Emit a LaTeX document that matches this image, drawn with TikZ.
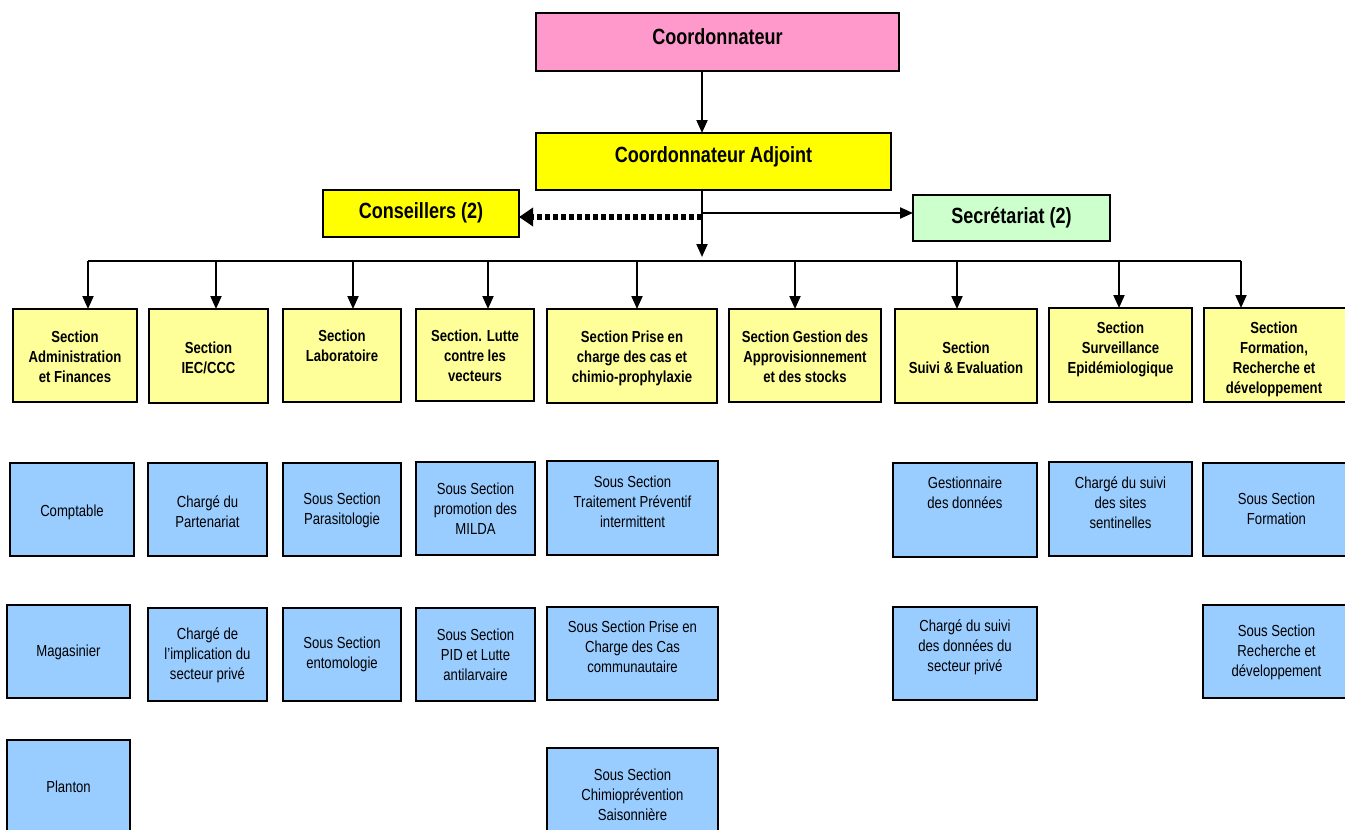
\documentclass[tikz,border=0pt]{standalone}
\usepackage{fontspec}
\setmainfont{Liberation Sans}[FakeStretch=0.82]
\usetikzlibrary{arrows.meta,shadows}
\definecolor{cpink}{HTML}{FF99CC}
\definecolor{cyel}{HTML}{FFFF00}
\definecolor{cpale}{HTML}{FFFF99}
\definecolor{cgreen}{HTML}{CCFFCC}
\definecolor{cblue}{HTML}{99CCFF}
% #1 name, #2 box style, #3 text style, #4 x1, #5 y1, #6 x2, #7 y2, #8 text y, #9 text
\newcommand\mybox[9]{%
  \node[#2, minimum width={(#6)-(#4)}, minimum height={(#7)-(#5)}] (#1) at ({((#4)+(#6))/2},{((#5)+(#7))/2}) {};
  \node[#3] (#1t) at ({((#4)+(#6))/2},#8) {#9};}
\tikzset{
  boxbase/.style={draw=black, line width=1.2pt, inner sep=0pt, outer sep=0pt,
    drop shadow={shadow xshift=1.3pt, shadow yshift=-1.3pt, fill=black!65, opacity=1}},
  pinkbox/.style={boxbase, fill=cpink},
  yelbox/.style={boxbase, fill=cyel},
  palebox/.style={boxbase, fill=cpale},
  greenbox/.style={boxbase, fill=cgreen},
  bluebox/.style={boxbase, fill=cblue},
  ttl/.style={inner sep=0pt, align=center, font=\fontsize{22}{26}\selectfont\bfseries},
  bt/.style={inner sep=0pt, align=center, font=\fontsize{16}{20}\selectfont\bfseries},
  rt/.style={inner sep=0pt, align=center, font=\fontsize{16}{20}\selectfont},
  conn/.style={draw=black, line width=2pt},
  arr/.style={conn, -{Triangle[length=13pt,width=11pt]}},
  dotarr/.style={draw=black, line width=6pt, dash pattern=on 5pt off 3pt,
    -{Triangle[length=14pt,width=18pt]}},
}
\begin{document}
\begin{tikzpicture}[x=1pt,y=-1pt]
\useasboundingbox (0,0) rectangle (1345,830);
\clip (0,0) rectangle (1345,830);
\fill[white] (0,0) rectangle (1345,830);

% top level
\mybox{coord}{pinkbox}{ttl}{536}{13}{899}{71}{37}{Coordonnateur}
\mybox{adj}{yelbox}{ttl}{536}{133}{891}{190}{157}{Coordonnateur Adjoint}
\mybox{cons}{yelbox}{ttl}{323}{190}{519}{237}{213}{Conseillers (2)}
\mybox{secr}{greenbox}{ttl}{913}{195}{1110}{241}{218}{Secrétariat (2)}

% sections
\mybox{s1}{palebox}{bt}{13}{309}{137}{402}{357}{Section\\Administration\\et Finances}
\mybox{s2}{palebox}{bt}{149}{309}{268}{403}{358}{Section\\IEC/CCC}
\mybox{s3}{palebox}{bt}{283}{309}{401}{402}{346}{Section\\Laboratoire}
\mybox{s4}{palebox}{bt}{416}{309}{534}{401}{356}{Section. Lutte\\contre les\\vecteurs}
\mybox{s5}{palebox}{bt}{547}{309}{717}{403}{358}{Section Prise en\\charge des cas et\\chimio-prophylaxie}
\mybox{s6}{palebox}{bt}{729}{309}{881}{402}{357}{Section Gestion des\\Approvisionnement\\et des stocks}
\mybox{s7}{palebox}{bt}{895}{309}{1037}{403}{358}{Section\\Suivi \& Evaluation}
\mybox{s8}{palebox}{bt}{1049}{308}{1192}{402}{349}{Section\\Surveillance\\Epidémiologique}
\node[palebox, minimum width=147, minimum height=94] (s9) at (1277.5,355) {};
\begin{scope}
  \clip (1204,309) rectangle (1350,401.2);
  \node[bt] (s9t) at (1274,359) {Section\\Formation,\\Recherche et\\développement};
\end{scope}

% sub-sections row 1
\mybox{b1}{bluebox}{rt}{10}{463}{134}{556}{512}{Comptable}
\mybox{b2}{bluebox}{rt}{148}{463}{267}{556}{512}{Chargé du\\Partenariat}
\mybox{b3}{bluebox}{rt}{283}{463}{401}{556}{510}{Sous Section\\Parasitologie}
\mybox{b4}{bluebox}{rt}{416}{462}{535}{555}{509}{Sous Section\\promotion des\\MILDA}
\mybox{b5}{bluebox}{rt}{547}{461}{718}{555}{501.5}{Sous Section\\Traitement Préventif\\intermittent}
\mybox{g1}{bluebox}{rt}{893}{463}{1037}{557}{493}{Gestionnaire\\des données}
\mybox{g2}{bluebox}{rt}{1049}{462}{1192}{556}{503}{Chargé du suivi\\des sites\\sentinelles}
\mybox{g3}{bluebox}{rt}{1203}{463}{1350}{556}{509}{Sous Section\\Formation}

% sub-sections row 2
\mybox{c1}{bluebox}{rt}{7}{605}{130}{698}{652}{Magasinier}
\mybox{c2}{bluebox}{rt}{148}{608}{267}{701}{655}{Chargé de\\l'implication du\\secteur privé}
\mybox{c3}{bluebox}{rt}{283}{608}{401}{701}{654.5}{Sous Section\\entomologie}
\mybox{c4}{bluebox}{rt}{416}{608}{535}{701}{655}{Sous Section\\PID et Lutte\\antilarvaire}
\mybox{c5}{bluebox}{rt}{547}{607}{718}{700}{646.5}{Sous Section Prise en\\Charge des Cas\\communautaire}
\mybox{h1}{bluebox}{rt}{893}{607}{1037}{700}{647}{Chargé du suivi\\des données du\\secteur privé}
\mybox{h3}{bluebox}{rt}{1203}{605}{1350}{698}{652.5}{Sous Section\\Recherche et\\développement}

% sub-sections row 3
\mybox{d1}{bluebox}{rt}{7}{740}{130}{836}{787}{Planton}
\mybox{d5}{bluebox}{rt}{547}{748}{718}{836}{795}{Sous Section\\Chimioprévention\\Saisonnière}

% connectors
\coordinate (jx) at (702,0);
\draw[arr] (coord.south -| jx) -- (adj.north -| jx);
\coordinate (busend) at (702,257);
\draw[arr] (adj.south -| jx) -- (busend);
\coordinate (dj) at (702,217);
\draw[dotarr] (dj) -- (dj -| cons.east);
\coordinate (sj) at (702,213);
\draw[arr] (sj) -- (sj -| secr.west);

\coordinate (a1) at (88,261);
\coordinate (a2) at (216,261);
\coordinate (a3) at (353,261);
\coordinate (a4) at (488,261);
\coordinate (a5) at (637,261);
\coordinate (a6) at (795,261);
\coordinate (a7) at (957,261);
\coordinate (a8) at (1119,261);
\coordinate (a9) at (1241,261);
\draw[conn] (a1) -- (a9);
\foreach \i in {1,...,9} {
  \draw[arr] (a\i) -- (a\i |- s\i.north);
}
\end{tikzpicture}
\end{document}
